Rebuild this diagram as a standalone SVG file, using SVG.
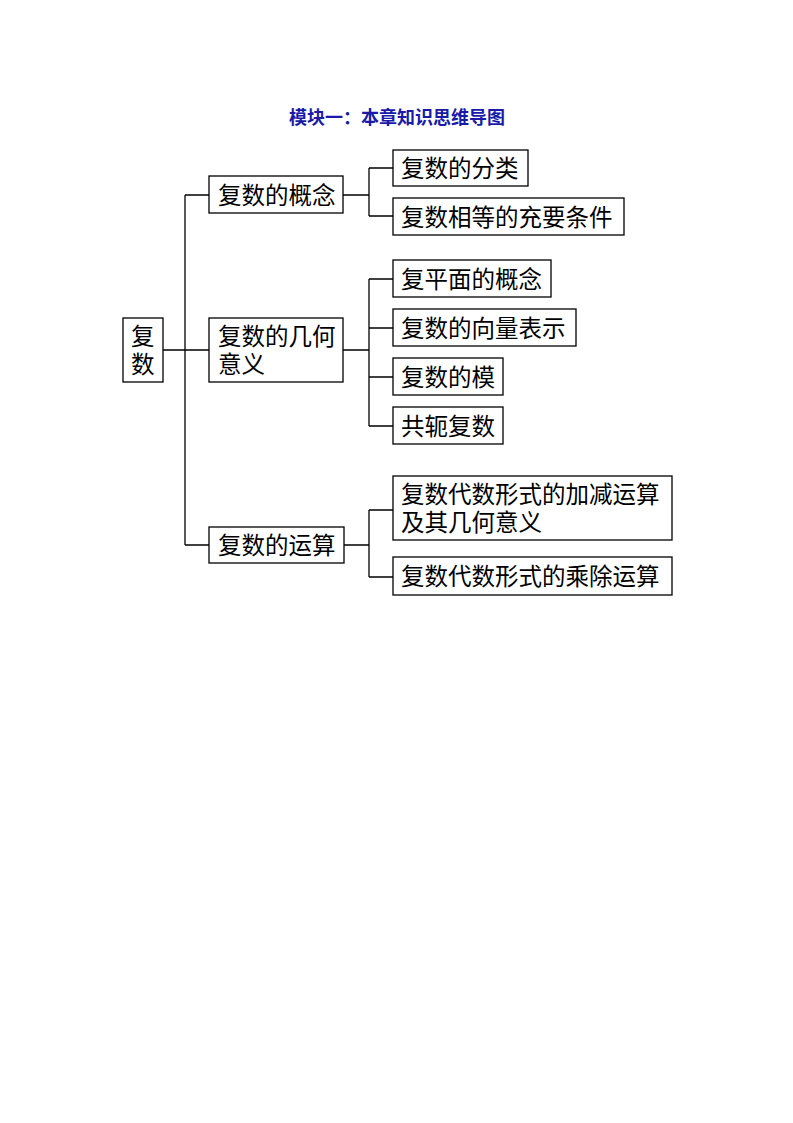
<svg xmlns="http://www.w3.org/2000/svg" width="793" height="1123" viewBox="0 0 793 1123">
<style>
rect{fill:#fff;stroke:#000;stroke-width:1.3}
text{font-family:"Liberation Serif","Noto Sans CJK SC",serif;font-size:23.5px;fill:#000}
.t{font-family:"Noto Sans CJK SC",sans-serif;font-size:18px;font-weight:bold;fill:#1a1aa8}
#connectors path{fill:none;stroke:#000;stroke-width:1.3}
</style>
<rect width="793" height="1123" style="stroke:none"/>
<text class="t" x="397" y="124" text-anchor="middle">模块一：本章知识思维导图</text>
<g id="connectors">
<path d="M163 350H209M185 195V545M185 195H209M185 545H209"/>
<path d="M343 195H369M369 168V216M369 168H393M369 216H393"/>
<path d="M343 350H369M369 279V426M369 279H393M369 328H393M369 377H393M369 426H393"/>
<path d="M344 545H369M369 510V577M369 510H393M369 577H393"/>
</g>
<g id="root"><rect x="123" y="318" width="40" height="64"/><text x="131" y="345">复</text><text x="131" y="373">数</text></g>
<g id="n1"><rect x="209" y="176" width="134" height="37"/><text x="218" y="204">复数的概念</text></g>
<g id="n2"><rect x="209" y="318" width="134" height="64"/><text x="218" y="345">复数的几何</text><text x="218" y="373">意义</text></g>
<g id="n3"><rect x="209" y="527" width="135" height="36"/><text x="218" y="554">复数的运算</text></g>
<g id="n11"><rect x="393" y="150" width="135" height="36"/><text x="401" y="177">复数的分类</text></g>
<g id="n12"><rect x="393" y="198" width="231" height="37"/><text x="401" y="226">复数相等的充要条件</text></g>
<g id="n21"><rect x="393" y="260" width="158" height="37"/><text x="401" y="288">复平面的概念</text></g>
<g id="n22"><rect x="393" y="309" width="183" height="37"/><text x="401" y="337">复数的向量表示</text></g>
<g id="n23"><rect x="393" y="358" width="110" height="37"/><text x="401" y="386">复数的模</text></g>
<g id="n24"><rect x="393" y="407" width="110" height="37"/><text x="401" y="435">共轭复数</text></g>
<g id="n31"><rect x="393" y="476" width="279" height="64"/><text x="401" y="503">复数代数形式的加减运算</text><text x="401" y="531">及其几何意义</text></g>
<g id="n32"><rect x="393" y="557" width="279" height="38"/><text x="401" y="585">复数代数形式的乘除运算</text></g>
</svg>
